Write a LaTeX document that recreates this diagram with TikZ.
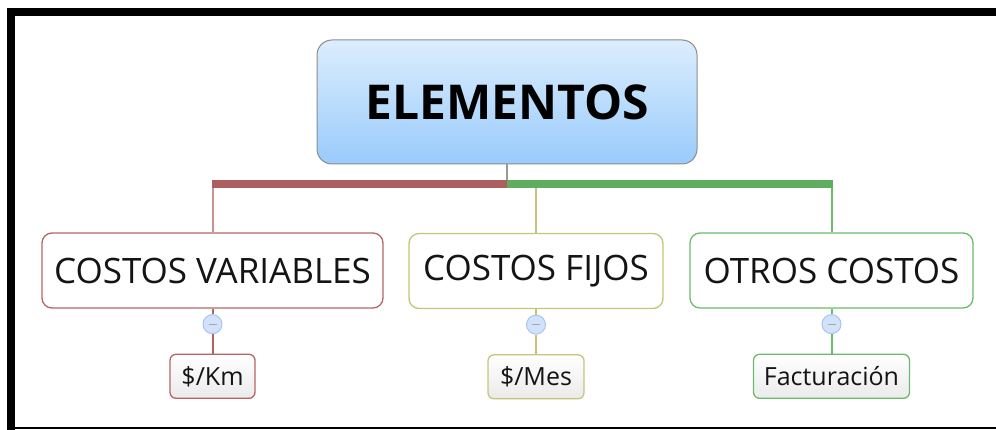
\documentclass[tikz,border=0pt]{standalone}
\usepackage{fontspec}
\setmainfont{Open Sans}
\usepackage{tikz}
\usetikzlibrary{positioning}
\definecolor{redc}{RGB}{180,100,100}
\definecolor{redbar}{RGB}{173,95,95}
\definecolor{yelc}{RGB}{196,196,122}
\definecolor{grnc}{RGB}{108,186,108}
\definecolor{grnbar}{RGB}{95,174,95}
\definecolor{topblue}{RGB}{220,237,253}
\definecolor{botblue}{RGB}{153,203,252}
\definecolor{knobfill}{RGB}{210,226,251}
\definecolor{knobline}{RGB}{170,195,240}

\begin{document}
\begin{tikzpicture}[x=1pt, y=-1pt,
            root/.style={draw=black!45, line width=1pt, rounded corners=15pt,
                top color=topblue, bottom color=botblue,
                minimum width=380pt, minimum height=124pt,
                font={\fontsize{48pt}{50pt}\selectfont\bfseries}},
            sub/.style={draw=#1, line width=1.3pt, rounded corners=10pt, fill=white,
                minimum height=75pt, text=black!92,
                font={\fontsize{35pt}{38pt}\selectfont}},
            leaf/.style={draw=#1, line width=1.3pt, rounded corners=6pt,
                top color=white, bottom color=black!8, minimum height=44pt,
                text=black!92, font={\fontsize{25pt}{28pt}\selectfont}},
            knob/.style={circle, draw=knobline, fill=knobfill, line width=1pt,
                minimum size=19pt, inner sep=0pt,
                path picture={\draw[black!35, line width=1pt]
                    ([xshift=-4pt]path picture bounding box.center) --
                    ([xshift=4pt]path picture bounding box.center);}},
            link/.style={line width=2pt, draw=#1},
            bar/.style={line width=8pt, draw=#1}
        ]
        \useasboundingbox (0,0) rectangle (996,430);
        % frame
        \draw[line width=8pt] (996,12) -- (11,12) -- (11,430);
        \draw[line width=2pt] (11,428) -- (996,428);

        \node[root] (root) at (507,102) {ELEMENTOS};  % central topic
        \node[sub=redc, minimum width=341pt] (cv) at (212.5,270.5) {COSTOS VARIABLES};
        \node[sub=yelc, minimum width=254pt] (cf) at (536,271) {COSTOS FIJOS};
        \node[sub=grnc, minimum width=283pt] (oc) at (831.5,270.5) {OTROS COSTOS};
        \coordinate (j) at (507,184);

        % collapse buttons and sub topics
        \node[knob, below=5.5pt of cv] (k1) {};
        \node[knob, below=5.5pt of cf] (k2) {};
        \node[knob, below=5.5pt of oc] (k3) {};
        \node[leaf=redc, minimum width=85pt, below=19.5pt of k1] (km) {\$/Km};
        \node[leaf=yelc, minimum width=96pt, below=19.5pt of k2] (mes) {\$/Mes};
        \node[leaf=grnc, minimum width=156pt, below=19.5pt of k3] (fac) {Facturación};

        % branches
        \draw[link=black!40, line width=1.5pt] (root) -- (j);
        \draw[link=redc!70] (j -| cv.north) -- (cv.north);
        \draw[link=yelc] (j -| cf.north) -- (cf.north);
        \draw[link=grnc] (j -| oc.north) -- (oc.north);
        \draw[bar=redbar] (j) -- ([xshift=-1pt]j -| cv.north);
        \draw[bar=grnbar] (j) -- ([xshift=1pt]j -| oc.north);
        \draw[link=redc] (cv) -- (k1) (k1) -- (km);
        \draw[link=yelc] (cf) -- (k2) (k2) -- (mes);
        \draw[link=grnc] (oc) -- (k3) (k3) -- (fac);
    \end{tikzpicture}
\end{document}
